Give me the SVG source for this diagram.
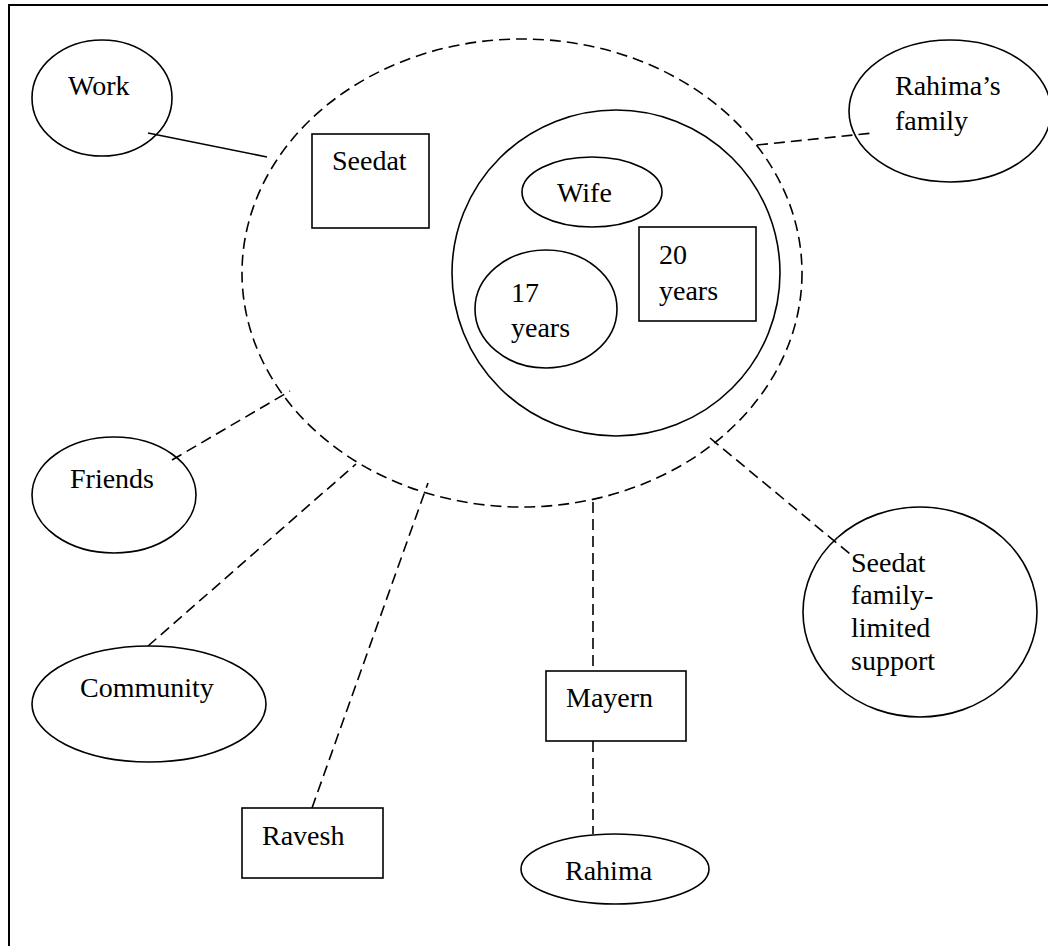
<svg xmlns="http://www.w3.org/2000/svg" width="1048" height="946" viewBox="0 0 1048 946">
  <style>
    .shape { fill: none; stroke: #000; stroke-width: 1.6; }
    .solid { fill: none; stroke: #000; stroke-width: 1.6; }
    .dash { fill: none; stroke: #000; stroke-width: 1.6; stroke-dasharray: 11 6; }
    .frame { fill: none; stroke: #000; stroke-width: 2; }
    .lbl { font-family: 'Liberation Serif', 'Times New Roman', Times, 'DejaVu Serif', serif; font-size: 28px; fill: #000; }
  </style>
  <rect width="1048" height="946" fill="#fff"/>

  <!-- page frame (open on the right and bottom) -->
  <path class="frame" d="M9,946 V5 H1048"/>

  <!-- household boundary -->
  <g id="household">
    <ellipse class="dash" cx="522" cy="273" rx="280" ry="234"/>
  </g>

  <!-- connectors -->
  <g id="connectors">
    <line class="solid" x1="148" y1="133" x2="267" y2="157"/>
    <line class="dash" x1="757" y1="145" x2="873" y2="133"/>
    <line class="dash" x1="172" y1="460" x2="290" y2="391"/>
    <line class="dash" x1="148" y1="646" x2="356" y2="464"/>
    <line class="dash" x1="312" y1="808" x2="428" y2="483"/>
    <line class="dash" x1="593" y1="502" x2="593" y2="671"/>
    <line class="dash" x1="593" y1="741" x2="593" y2="834"/>
    <line class="dash" x1="710" y1="438" x2="850" y2="554"/>
  </g>

  <g class="lbl" font-family="Liberation Serif, serif">
    <g id="work">
      <ellipse class="shape" cx="102" cy="98" rx="70" ry="58"/>
      <text x="68" y="95">Work</text>
    </g>

    <g id="seedat">
      <rect class="shape" x="312" y="134" width="117" height="94"/>
      <text x="332" y="170">Seedat</text>
    </g>

    <g id="family">
      <ellipse class="shape" cx="616" cy="273" rx="164" ry="163"/>
    </g>

    <g id="wife">
      <ellipse class="shape" cx="592" cy="192" rx="70" ry="35"/>
      <text x="557" y="202">Wife</text>
    </g>

    <g id="child-17">
      <ellipse class="shape" cx="546" cy="309" rx="71" ry="59"/>
      <text x="511" y="302">17</text>
      <text x="511" y="337">years</text>
    </g>

    <g id="child-20">
      <rect class="shape" x="639" y="227" width="117" height="94"/>
      <text x="659" y="264">20</text>
      <text x="659" y="300">years</text>
    </g>

    <g id="rahimas-family">
      <ellipse class="shape" cx="950" cy="111" rx="101" ry="71"/>
      <text x="895" y="95">Rahima’s</text>
      <text x="895" y="130">family</text>
    </g>

    <g id="friends">
      <ellipse class="shape" cx="114" cy="495" rx="82" ry="58"/>
      <text x="70" y="488">Friends</text>
    </g>

    <g id="community">
      <ellipse class="shape" cx="149" cy="704" rx="117" ry="58"/>
      <text x="80" y="697">Community</text>
    </g>

    <g id="ravesh">
      <rect class="shape" x="242" y="808" width="141" height="70"/>
      <text x="262" y="845">Ravesh</text>
    </g>

    <g id="mayern">
      <rect class="shape" x="546" y="671" width="140" height="70"/>
      <text x="566" y="707">Mayern</text>
    </g>

    <g id="rahima">
      <ellipse class="shape" cx="615" cy="869" rx="94" ry="35"/>
      <text x="565" y="880">Rahima</text>
    </g>

    <g id="seedat-family">
      <ellipse class="shape" cx="920" cy="612" rx="117" ry="105"/>
      <text x="851" y="572">Seedat</text>
      <text x="851" y="604">family-</text>
      <text x="851" y="637">limited</text>
      <text x="851" y="670">support</text>
    </g>
  </g>
</svg>
